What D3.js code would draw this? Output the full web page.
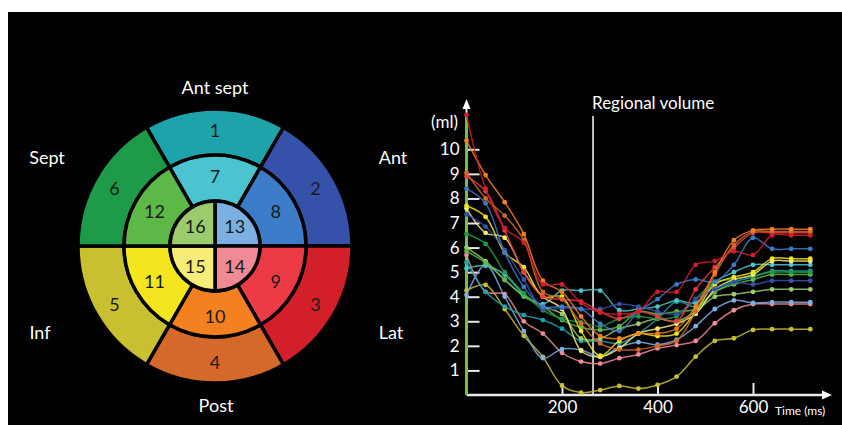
<!DOCTYPE html>
<html>
<head>
<meta charset="utf-8">
<script src="https://cdn.jsdelivr.net/npm/d3@7/dist/d3.min.js"></script>
<style>
  body { margin: 0; background: #fff; }
  text { font-family: Lato, "Open Sans", sans-serif; }
</style>
</head>
<body>
<svg id="chart" width="842" height="435"></svg>
<script>
// bullseye segments (16-segment model)
const outerSegs = [1, 2, 3, 4, 5, 6];
const middleSegs = [7, 8, 9, 10, 11, 12];
const innerSegs = [13, 14, 15, 16];
const segColors = {
  1: "#1fa3ab", 2: "#3551a9", 3: "#d21f2a", 4: "#d4692a",
  5: "#c8c030", 6: "#1e9b48", 7: "#4cc4cf", 8: "#3d7cc8",
  9: "#ec3b44", 10: "#f48020", 11: "#f3e61e", 12: "#5db947",
  13: "#7cb0e2", 14: "#f08a94", 15: "#f8ec78", 16: "#9ccb6e"
};
const regionNames = ["Ant sept", "Ant", "Lat", "Post", "Inf", "Sept"];

// regional volume curves, ml at each time (ms)
const times = [0, 40, 80, 120, 160, 200, 240, 280, 320, 360, 400, 440, 480, 520, 560, 600, 640, 680, 720];
const seg3  = [11.4, 8.4, 6.8, 6.2, 4.5, 4.5, 3.75, 3.35, 3.3, 3.4, 4.2, 4.2, 5.3, 5.45, 5.85, 5.7, 6.5, 6.5, 6.5];
const seg10 = [10.35, 8.95, 7.85, 6.55, 4.65, 4.2, 3.2, 2.4, 2.3, 2.5, 2.5, 2.7, 3.6, 5.0, 6.3, 6.7, 6.75, 6.75, 6.75];
const seg4  = [9.05, 8.0, 7.3, 6.3, 4.2, 3.9, 2.9, 2.1, 1.85, 1.85, 2.0, 2.2, 3.4, 4.9, 6.1, 6.65, 6.65, 6.65, 6.65];
const seg9  = [8.9, 8.3, 6.7, 5.0, 4.0, 3.9, 3.8, 3.4, 3.1, 3.4, 3.2, 3.0, 4.3, 5.2, 6.0, 6.6, 6.6, 6.6, 6.6];
const seg8  = [8.4, 7.8, 5.8, 4.4, 3.6, 3.6, 3.5, 2.9, 2.6, 3.4, 3.9, 4.5, 4.7, 4.6, 5.3, 6.4, 5.95, 5.95, 5.95];
const seg2  = [7.35, 6.85, 5.9, 4.7, 3.5, 3.55, 3.5, 3.5, 3.7, 3.6, 3.4, 3.3, 3.9, 4.3, 4.6, 4.5, 4.65, 4.65, 4.65];
const seg11 = [7.7, 7.25, 5.8, 5.2, 4.0, 4.0, 2.6, 1.6, 2.2, 2.5, 2.4, 2.5, 3.4, 4.5, 4.8, 5.0, 5.55, 5.55, 5.55];
const seg15 = [7.6, 6.6, 6.4, 5.0, 4.0, 3.5, 1.8, 1.55, 1.9, 2.5, 2.7, 2.9, 3.3, 4.3, 4.7, 4.9, 5.45, 5.45, 5.45];
const seg6  = [6.55, 6.15, 5.0, 4.15, 3.45, 3.1, 2.95, 2.8, 3.1, 3.2, 3.1, 3.2, 3.9, 4.6, 4.7, 4.85, 5.0, 5.0, 5.0];
const seg12 = [5.85, 5.38, 4.7, 4.0, 3.6, 3.05, 2.75, 2.65, 2.8, 3.4, 3.3, 3.4, 3.5, 4.2, 4.5, 4.7, 4.9, 4.9, 4.9];
const seg16 = [6.0, 5.45, 4.68, 4.05, 3.6, 3.3, 2.3, 2.3, 2.7, 2.9, 3.1, 3.0, 3.4, 4.0, 4.1, 4.2, 4.3, 4.3, 4.3];
const seg7  = [5.15, 5.26, 4.9, 4.1, 3.7, 4.25, 4.25, 4.25, 3.45, 3.5, 3.6, 3.85, 3.75, 4.6, 5.0, 5.3, 5.3, 5.3, 5.3];
const seg1  = [5.4, 4.2, 3.6, 3.25, 3.05, 2.7, 2.2, 2.2, 2.1, 2.5, 3.1, 3.8, 3.6, 4.2, 4.6, 4.8, 5.05, 5.05, 5.05];
const seg13 = [4.07, 5.3, 4.0, 2.6, 1.5, 1.87, 1.83, 1.56, 1.95, 2.15, 2.05, 2.25, 2.8, 3.5, 3.85, 3.75, 3.78, 3.78, 3.78];
const seg14 = [5.7, 4.2, 4.1, 3.0, 2.5, 1.72, 1.36, 1.28, 1.5, 1.65, 1.9, 2.03, 2.2, 2.92, 3.45, 3.7, 3.7, 3.7, 3.7];
const seg5  = [4.25, 4.48, 3.5, 2.41, 1.55, 0.38, 0.1, 0.2, 0.37, 0.26, 0.41, 0.75, 1.56, 2.2, 2.31, 2.65, 2.68, 2.68, 2.68];
const yTicks = [1, 2, 3, 4, 5, 6, 7, 8, 9, 10];
const xTicks = [200, 400, 600];
const markerTime = 265;

const series = [
  [5, seg5], [14, seg14], [13, seg13], [1, seg1], [7, seg7], [16, seg16], [12, seg12], [6, seg6],
  [15, seg15], [11, seg11], [2, seg2], [8, seg8], [9, seg9], [4, seg4], [10, seg10], [3, seg3]
].map(([id, vals]) => ({ id, color: segColors[id], points: vals.map((v, i) => ({ t: times[i], v })) }));

const svg = d3.select("#chart");

// black panel
svg.append("rect")
  .attr("x", 8).attr("y", 12)
  .attr("width", 834).attr("height", 413)
  .attr("fill", "#000");

// ---------- bullseye ----------
const cx = 215, cy = 246;
const rings = [0, 45, 91, 137];
const rad = deg => deg * Math.PI / 180;
const arc = d3.arc();
const bull = svg.append("g").attr("transform", `translate(${cx},${cy})`);

const segData = [
  ...outerSegs.map((s, i) => ({ s, r0: rings[2], r1: rings[3], a0: -30 + i * 60, a1: 30 + i * 60, lr: 116 })),
  ...middleSegs.map((s, i) => ({ s, r0: rings[1], r1: rings[2], a0: -30 + i * 60, a1: 30 + i * 60, lr: 70 })),
  ...innerSegs.map((s, i) => ({ s, r0: rings[0], r1: rings[1], a0: i * 90, a1: 90 + i * 90, lr: 28 }))
];

bull.selectAll("path.seg")
  .data(segData)
  .join("path")
  .attr("class", "seg")
  .attr("d", d => arc({ innerRadius: d.r0, outerRadius: d.r1, startAngle: rad(d.a0), endAngle: rad(d.a1) }))
  .attr("fill", d => segColors[d.s])
  .attr("stroke", "#000")
  .attr("stroke-width", 3.5);

bull.selectAll("text.num")
  .data(segData)
  .join("text")
  .attr("class", "num")
  .attr("x", d => d.lr * Math.sin(rad((d.a0 + d.a1) / 2)))
  .attr("y", d => -d.lr * Math.cos(rad((d.a0 + d.a1) / 2)))
  .attr("text-anchor", "middle")
  .attr("dominant-baseline", "central")
  .attr("font-size", 18)
  .attr("fill", "#1a1a1a")
  .text(d => d.s);

// region names around the bullseye
const regionPos = [[0, -159], [178, -89], [176, 86], [1, 159], [-175, 86], [-168, -89]];
bull.selectAll("text.region")
  .data(regionNames)
  .join("text")
  .attr("class", "region")
  .attr("x", (d, i) => regionPos[i][0])
  .attr("y", (d, i) => regionPos[i][1])
  .attr("text-anchor", "middle")
  .attr("dominant-baseline", "central")
  .attr("font-size", 18)
  .attr("fill", "#fff")
  .text(d => d);

// ---------- regional volume chart ----------
const x = d3.scaleLinear().domain([0, 720]).range([466.5, 810.3]);
const y = d3.scaleLinear().domain([0, 10]).range([395, 149.3]);

const yAxis = svg.append("g")
  .attr("transform", `translate(${x(0)},0)`)
  .call(d3.axisLeft(y).tickValues(yTicks).tickSize(-13).tickPadding(7).tickFormat(d3.format("d")));
yAxis.select(".domain").remove();
yAxis.selectAll(".tick line").attr("stroke", "#e8e8e8").attr("stroke-width", 2);
yAxis.selectAll(".tick text").attr("fill", "#fff").attr("font-size", 17).attr("font-family", "Lato, sans-serif");

const xAxis = svg.append("g")
  .attr("transform", `translate(0,${y(0)})`)
  .call(d3.axisBottom(x).tickValues(xTicks).tickSize(-12).tickPadding(6));
xAxis.select(".domain").remove();
xAxis.selectAll(".tick line").attr("stroke", "#e8e8e8").attr("stroke-width", 2);
xAxis.selectAll(".tick text").attr("fill", "#fff").attr("font-size", 17).attr("font-family", "Lato, sans-serif");

// axis lines with arrows
svg.append("line")
  .attr("x1", x(0)).attr("x2", 822)
  .attr("y1", y(0)).attr("y2", y(0))
  .attr("stroke", "#e8e8e8").attr("stroke-width", 2.5);
svg.append("path")
  .attr("d", `M822,${y(0) - 4.5}L832,${y(0)}L822,${y(0) + 4.5}Z`)
  .attr("fill", "#fff");
svg.append("line")
  .attr("x1", x(0)).attr("x2", x(0))
  .attr("y1", y(0)).attr("y2", 108)
  .attr("stroke", "#e8e8e8").attr("stroke-width", 2);
svg.append("path")
  .attr("d", `M${x(0) - 4},109L${x(0)},99L${x(0) + 4},109Z`)
  .attr("fill", "#fff");
svg.append("line")
  .attr("x1", x(0)).attr("x2", x(0))
  .attr("y1", y(0)).attr("y2", 116)
  .attr("stroke", "#6cc24a").attr("stroke-width", 3);

// marker line
svg.append("line")
  .attr("x1", x(markerTime)).attr("x2", x(markerTime))
  .attr("y1", y(0)).attr("y2", 116)
  .attr("stroke", "#fff").attr("stroke-width", 1.5);

// labels
svg.append("text")
  .attr("x", x(markerTime) - 1).attr("y", 109)
  .attr("font-size", 17).attr("fill", "#fff")
  .text("Regional volume");
svg.append("text")
  .attr("x", 458).attr("y", 128)
  .attr("text-anchor", "end")
  .attr("font-size", 17).attr("fill", "#fff")
  .text("(ml)");
svg.append("text")
  .attr("x", 775).attr("y", 415)
  .attr("font-size", 12).attr("fill", "#fff")
  .text("Time (ms)");

// curves
const line = d3.line()
  .x(d => x(d.t))
  .y(d => y(d.v))
  .curve(d3.curveCatmullRom.alpha(0.5));

const groups = svg.append("g")
  .selectAll("g.series")
  .data(series)
  .join("g")
  .attr("class", "series");

groups.append("path")
  .attr("d", d => line(d.points))
  .attr("fill", "none")
  .attr("stroke", d => d.color)
  .attr("stroke-width", 1.5)
  .attr("stroke-opacity", 0.85);

groups.selectAll("circle")
  .data(d => d.points.map(p => ({ ...p, color: d.color })))
  .join("circle")
  .attr("cx", d => x(d.t))
  .attr("cy", d => y(d.v))
  .attr("r", 2.4)
  .attr("fill", d => d.color);
</script>
</body>
</html>
